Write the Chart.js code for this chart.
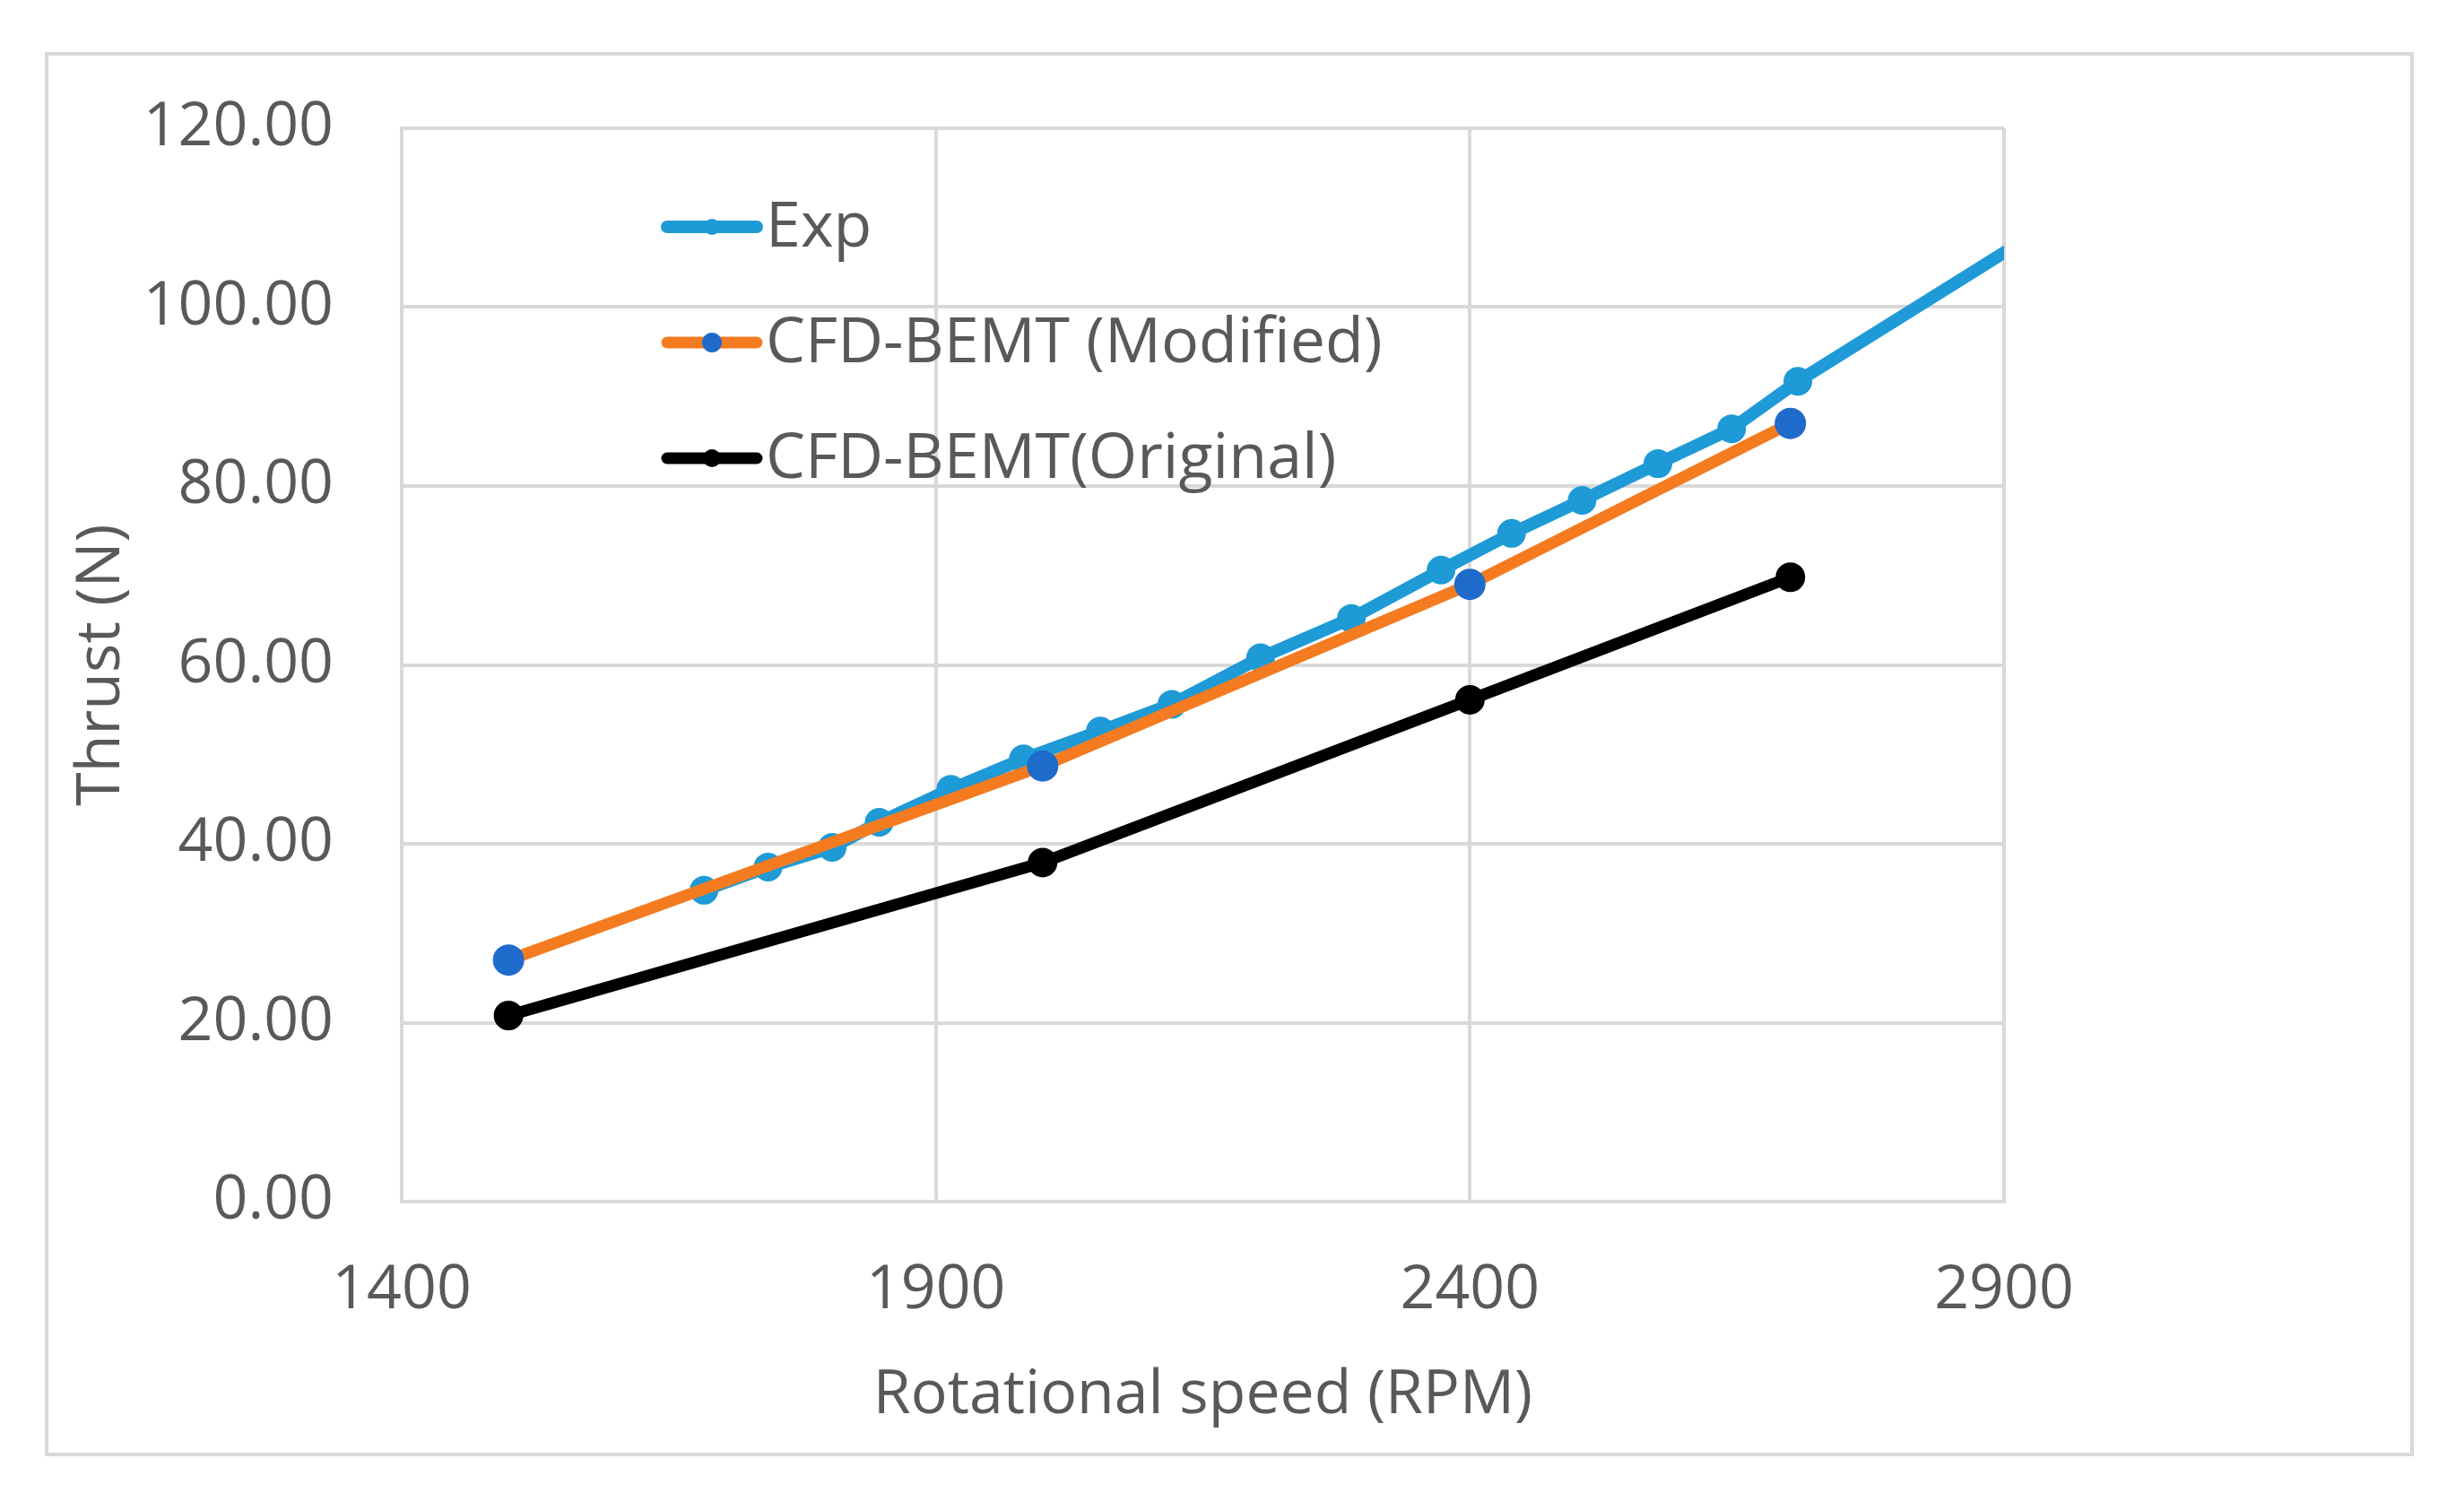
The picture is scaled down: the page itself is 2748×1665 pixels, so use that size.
<!DOCTYPE html>
<html>
<head>
<meta charset="utf-8">
<title>Thrust vs rotational speed</title>
<script src="https://cdn.jsdelivr.net/npm/chart.js@4.4.1/dist/chart.umd.min.js"></script>
<style>
  html, body { margin: 0; padding: 0; background: #fff; }
  #wrap { position: relative; width: 2748px; height: 1665px; }
</style>
</head>
<body>
<div id="wrap"><canvas id="thrustChart"></canvas></div>
<script>
// Series data (rotational speed in RPM, thrust in N)
const seriesNames = ['Exp', 'CFD-BEMT (Modified)', 'CFD-BEMT(Original)'];

const expRpm = [1683, 1743, 1803, 1847, 1914, 1982, 2054, 2121, 2204, 2289, 2373, 2439, 2505, 2576, 2645, 2707, 2990];
const expThrust = [34.8, 37.4, 39.6, 42.4, 46.1, 49.5, 52.6, 55.6, 60.8, 65.2, 70.6, 74.7, 78.4, 82.5, 86.4, 91.7, 112.8];

const modRpm = [1500, 2000, 2400, 2700];
const modThrust = [27.0, 48.7, 69.0, 87.0];

const origRpm = [1500, 2000, 2400, 2700];
const origThrust = [20.8, 37.9, 56.1, 69.8];

// Axis ticks
const xTicks = [1400, 1900, 2400, 2900];
const yTicks = [0, 20, 40, 60, 80, 100, 120];

const FONT = "'Open Sans', 'Noto Sans', sans-serif";
const TEXT_COLOR = '#595959';
const GRID_COLOR = '#d9d9d9';

function toPoints(xs, ys) {
    return xs.map((x, i) => ({ x: x, y: ys[i] }));
}

// Light grey frame round the whole chart
const framePlugin = {
    id: 'frame',
    beforeDraw(chart) {
        const ctx = chart.ctx;
        ctx.save();
        ctx.fillStyle = '#ffffff';
        ctx.fillRect(0, 0, chart.width, chart.height);
        ctx.strokeStyle = GRID_COLOR;
        ctx.lineWidth = 4;
        ctx.strokeRect(52, 60, 2638, 1562);
        ctx.restore();
    }
};

// Legend drawn inside the plot area, Excel style (line + marker)
const insideLegend = {
    id: 'insideLegend',
    afterDatasetsDraw(chart) {
        const ctx = chart.ctx;
        const area = chart.chartArea;
        const x0 = area.left + 296;
        const rows = [110, 239, 368];
        ctx.save();
        chart.data.datasets.forEach((ds, i) => {
            const y = area.top + rows[i];
            ctx.strokeStyle = ds.borderColor;
            ctx.lineWidth = ds.borderWidth;
            ctx.lineCap = 'round';
            ctx.beginPath();
            ctx.moveTo(x0, y);
            ctx.lineTo(x0 + 100, y);
            ctx.stroke();
            ctx.fillStyle = ds.pointBackgroundColor;
            ctx.beginPath();
            ctx.arc(x0 + 50, y, ds.pointRadius, 0, Math.PI * 2);
            ctx.fill();
            ctx.fillStyle = TEXT_COLOR;
            ctx.font = '70px ' + FONT;
            ctx.textAlign = 'left';
            ctx.textBaseline = 'middle';
            ctx.fillText(ds.label, x0 + 110, y + 2);
        });
        ctx.restore();
    }
};

document.addEventListener('DOMContentLoaded', function() {
    const ctx = document.getElementById('thrustChart').getContext('2d');

    new Chart(ctx, {
        type: 'line',
        data: {
            datasets: [{
                label: seriesNames[0],
                data: toPoints(expRpm, expThrust),
                borderColor: '#1e9ad6',
                backgroundColor: '#1e9ad6',
                pointBackgroundColor: '#1e9ad6',
                pointBorderColor: '#1e9ad6',
                borderWidth: 14,
                pointRadius: 9,
                order: 3,
                clip: 0
            }, {
                label: seriesNames[1],
                data: toPoints(modRpm, modThrust),
                borderColor: '#f57b20',
                backgroundColor: '#1f6bcb',
                pointBackgroundColor: '#1f6bcb',
                pointBorderColor: '#1f6bcb',
                borderWidth: 13,
                pointRadius: 11,
                order: 2,
                clip: 0
            }, {
                label: seriesNames[2],
                data: toPoints(origRpm, origThrust),
                borderColor: '#000000',
                backgroundColor: '#000000',
                pointBackgroundColor: '#000000',
                pointBorderColor: '#000000',
                borderWidth: 13,
                pointRadius: 10,
                order: 1,
                clip: 0
            }]
        },
        options: {
            responsive: true,
            maintainAspectRatio: false,
            animation: false,
            layout: {
                padding: { left: 0, top: 143, right: 513, bottom: 0 }
            },
            elements: {
                line: { tension: 0, borderJoinStyle: 'round', borderCapStyle: 'round' },
                point: { borderWidth: 1, hoverRadius: 12 }
            },
            plugins: {
                legend: { display: false },
                tooltip: { enabled: false }
            },
            scales: {
                x: {
                    type: 'linear',
                    min: 1400,
                    max: 2900,
                    afterBuildTicks: function(scale) {
                        scale.ticks = xTicks.map(v => ({ value: v }));
                    },
                    afterFit: function(scale) {
                        scale.height = 325;
                    },
                    ticks: {
                        color: TEXT_COLOR,
                        font: { family: FONT, size: 68 },
                        padding: 59,
                        maxRotation: 0,
                        callback: function(value) { return String(value); }
                    },
                    grid: {
                        color: GRID_COLOR,
                        lineWidth: 4,
                        drawTicks: false
                    },
                    border: { color: GRID_COLOR, width: 4 },
                    title: {
                        display: true,
                        text: 'Rotational speed (RPM)',
                        color: TEXT_COLOR,
                        font: { family: FONT, size: 68 },
                        padding: { top: 0, bottom: 68 }
                    }
                },
                y: {
                    type: 'linear',
                    min: 0,
                    max: 120,
                    afterBuildTicks: function(scale) {
                        scale.ticks = yTicks.map(v => ({ value: v }));
                    },
                    afterFit: function(scale) {
                        scale.width = 448;
                    },
                    ticks: {
                        color: TEXT_COLOR,
                        font: { family: FONT, size: 68 },
                        padding: 76,
                        callback: function(value) { return value.toFixed(2); }
                    },
                    grid: {
                        color: GRID_COLOR,
                        lineWidth: 4,
                        drawTicks: false
                    },
                    border: { color: GRID_COLOR, width: 4 },
                    title: {
                        display: true,
                        text: 'Thrust (N)',
                        color: TEXT_COLOR,
                        font: { family: FONT, size: 68 },
                        padding: { top: 73, bottom: 0 }
                    }
                }
            }
        },
        plugins: [framePlugin, insideLegend]
    });
});
</script>
</body>
</html>
